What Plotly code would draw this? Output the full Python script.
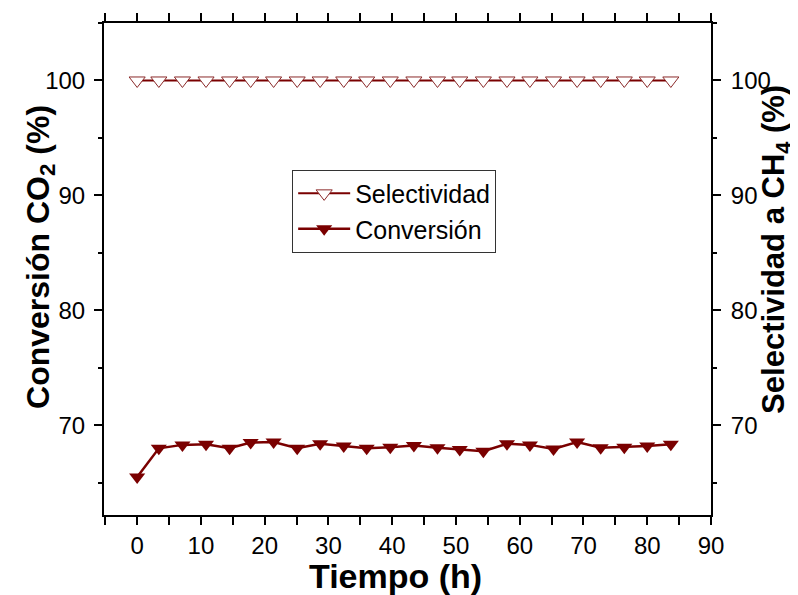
import plotly.graph_objects as go

# time on stream (h)
tiempo = [0, 3.4, 7.1, 10.8, 14.5, 17.8, 21.4, 25.1, 28.7, 32.4, 36.0, 39.7,
          43.4, 47.1, 50.6, 54.3, 58.0, 61.6, 65.3, 69.0, 72.7, 76.4, 80.0, 83.7]

conversion = [65.5, 68.0, 68.3, 68.35, 68.0, 68.5, 68.55, 68.0, 68.4, 68.2, 68.0, 68.1,
              68.25, 68.05, 67.9, 67.75, 68.4, 68.3, 67.95, 68.55, 68.05, 68.1, 68.2, 68.35]

selectividad = [100] * len(tiempo)

col = "#7a0000"
font = "Arial, Liberation Sans, sans-serif"

fig = go.Figure()

fig.add_trace(go.Scatter(
    x=tiempo, y=selectividad, name="Selectividad", yaxis="y2",
    mode="lines+markers",
    line=dict(color=col, width=2),
    marker=dict(symbol="triangle-down", size=14, color="white",
                line=dict(color="#8b2a2a", width=1)),
))

fig.add_trace(go.Scatter(
    x=tiempo, y=conversion, name="Conversión",
    mode="lines+markers",
    line=dict(color=col, width=2.5),
    marker=dict(symbol="triangle-down", size=14, color=col),
))

axis_common = dict(
    showline=True, linecolor="black", linewidth=2,
    ticks="outside", ticklen=8, tickwidth=1.5, tickcolor="black",
    tickfont=dict(family=font, size=24, color="black"),
    showgrid=False, zeroline=False, automargin=False,
)
minor = dict(ticks="outside", dtick=5, ticklen=4, tickwidth=1.5, tickcolor="black")

# page body has an 8px margin, so the figure is kept 8px smaller than the window
fig.update_layout(
    width=790, height=587,
    margin=dict(l=96, r=87, t=15, b=80),
    plot_bgcolor="white", paper_bgcolor="white",
    font=dict(family=font, color="black"),
    showlegend=True,
    legend=dict(
        x=0.31, y=0.702, xanchor="left", yanchor="top",
        bordercolor="#333333", borderwidth=1, bgcolor="white",
        font=dict(family=font, size=25, color="black"),
        tracegroupgap=0, itemwidth=52,
    ),
    xaxis=dict(**axis_common, range=[-5.2, 90], dtick=10, tick0=0,
               mirror="allticks", minor=minor),
    yaxis=dict(**axis_common, range=[62.2, 105], dtick=10, tick0=0, minor=minor,
               ticklabelstandoff=4),
    yaxis2=dict(**axis_common, range=[62.2, 105], dtick=10, tick0=0,
                overlaying="y", side="right", minor=minor, ticklabelstandoff=5),
)

# axis titles as annotations so their place is fixed
titles = [
    ("<b>Tiempo (h)</b>", 0.481, -0.124, 0, 34),
    ("<b>Conversión CO<sub>2</sub> (%)</b>", -0.105, 0.525, -90, 32),
    ("<b>Selectividad a CH<sub>4</sub> (%)</b>", 1.108, 0.54, -90, 31),
]
for text, x, y, ang, size in titles:
    fig.add_annotation(text=text, x=x, y=y, xref="paper", yref="paper",
                       xanchor="center", yanchor="middle", textangle=ang,
                       showarrow=False, font=dict(family=font, size=size, color="black"))

fig.write_html("out.html")
